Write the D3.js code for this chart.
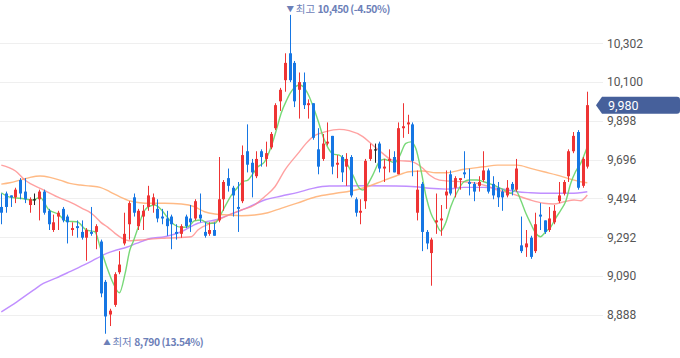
<!DOCTYPE html>
<html><head><meta charset="utf-8">
<script src="https://cdn.jsdelivr.net/npm/d3@7"></script>
<style>body{margin:0;background:#fff;}svg{display:block;}</style>
</head><body><svg id="c" width="680" height="358"></svg>
<script>
const opens = [9450,9520,9510,9500,9590,9530,9460,9490,9490,9530,
9430,9330,9400,9440,9400,9330,9350,9320,9290,9320,
9320,9270,9060,8890,8940,9110,9260,9360,9500,9350,
9400,9450,9460,9440,9400,9390,9400,9320,9310,9400,
9390,9390,9410,9320,9310,9330,9380,9490,9600,9550,
9450,9480,9740,9680,9610,9740,9700,9760,9860,10000,
10110,10250,10200,10060,10100,9980,9990,9750,9700,9780,
9820,9670,9710,9660,9710,9490,9420,9480,9700,9750,
9780,9650,9690,9710,9620,9860,9880,9880,9420,9570,
9320,9210,9370,9380,9510,9620,9550,9590,9630,9580,
9570,9560,9590,9640,9570,9550,9530,9510,9570,9540,
9250,9240,9290,9220,9410,9380,9330,9370,9480,9520,
9610,9740,9840,9560,9660];
const highs = [9520,9530,9510,9550,9600,9600,9500,9520,9540,9540,
9440,9410,9430,9450,9410,9370,9380,9380,9340,9450,
9360,9280,9070,8920,9110,9220,9420,9480,9520,9440,
9460,9560,9520,9490,9440,9430,9410,9360,9360,9410,
9460,9490,9520,9370,9370,9370,9710,9590,9650,9560,
9580,9770,9880,9700,9740,9750,9790,9840,9990,10070,
10250,10450,10210,10150,10150,10010,9990,9860,9830,9890,
9820,9720,9720,9730,9720,9500,9490,9700,9780,9780,
9790,9700,9750,9740,9890,9990,9930,9890,9640,9580,
9330,9290,9520,9460,9640,9640,9610,9600,9740,9650,
9580,9610,9740,9650,9610,9580,9540,9590,9580,9700,
9400,9330,9300,9420,9470,9380,9450,9460,9580,9590,
9750,9840,9850,9710,10050];
const lows = [9360,9420,9450,9470,9490,9470,9420,9460,9380,9410,
9330,9320,9330,9370,9260,9300,9290,9280,9170,9300,
9230,8980,8790,8830,8930,9100,9250,9280,9400,9330,
9330,9430,9420,9370,9360,9300,9230,9280,9290,9340,
9320,9380,9370,9290,9300,9300,9370,9430,9530,9400,
9320,9470,9630,9500,9600,9660,9660,9750,9850,9950,
10050,10100,9970,9910,9960,9910,9800,9620,9690,9770,
9620,9600,9580,9560,9500,9400,9360,9440,9690,9680,
9630,9580,9630,9630,9620,9810,9830,9610,9380,9220,
9230,9040,9310,9300,9440,9510,9500,9540,9600,9510,
9480,9530,9580,9520,9490,9450,9430,9500,9510,9530,
9210,9190,9180,9210,9330,9310,9320,9360,9470,9510,
9580,9730,9540,9550,9650];
const closes = [9420,9450,9500,9540,9520,9490,9490,9490,9530,9420,
9360,9370,9420,9380,9370,9340,9340,9290,9330,9310,
9350,9000,8880,8910,9100,9150,9310,9470,9420,9430,
9430,9510,9500,9390,9390,9350,9360,9310,9350,9350,
9370,9480,9390,9300,9330,9300,9490,9580,9560,9510,
9440,9720,9670,9630,9700,9710,9730,9830,9980,10060,
10200,10110,10000,10100,9980,9990,9810,9660,9780,9790,
9660,9680,9630,9700,9510,9420,9430,9690,9750,9750,
9650,9660,9700,9630,9860,9870,9890,9690,9540,9320,
9260,9280,9380,9390,9530,9520,9600,9600,9620,9570,
9530,9580,9640,9530,9510,9500,9500,9550,9540,9650,
9220,9260,9190,9360,9400,9320,9390,9430,9510,9580,
9740,9820,9550,9700,9980];

// moving average lines: [candle index, value]
const ma5 = [[0,9524],[1.8,9501],[4,9495],[6.7,9486],[8.2,9500],[10,9437],[12,9413],[13.8,9376],[16,9373],[18,9330],[19.8,9321],[20.9,9243],[22.3,9139],[23.7,9052],[25,9003],[26.2,9104],[27.2,9226],[27.9,9269],[29,9347],[30,9417],[31.1,9451],[32.5,9460],[33.9,9434],[35.3,9391],[36.7,9356],[38.1,9344],[39.5,9347],[40.9,9378],[42.3,9382],[43.7,9365],[45.2,9365],[46.2,9399],[47.3,9451],[48.7,9512],[50.1,9555],[51.1,9581],[52.2,9590],[53.3,9625],[54.3,9659],[55.7,9685],[57.1,9763],[58.2,9850],[59.2,9937],[60.4,10007],[61.1,10041],[62.1,10073],[63.2,10085],[63.9,10076],[65,10033],[66,9972],[67.1,9894],[68.1,9816],[69.2,9755],[70.2,9725],[71.5,9720],[72.9,9685],[74.4,9616],[75.8,9547],[76.5,9538],[77.2,9555],[78.6,9616],[80,9685],[81,9698],[82.1,9690],[83.2,9680],[84.2,9711],[85.6,9781],[86.7,9789],[87.7,9755],[88.8,9642],[89.9,9503],[90.9,9417],[92,9365],[93,9325],[94,9365],[95.1,9451],[96.5,9529],[97.9,9581],[99,9590],[100.7,9590],[102.1,9581],[103.6,9569],[105,9555],[106.4,9538],[107.8,9521],[108.8,9538],[109.9,9486],[111,9417],[112,9365],[113.1,9313],[114.1,9295],[115.2,9321],[116.3,9347],[117.3,9391],[118.4,9434],[119.4,9477],[120.5,9573],[121.5,9633],[122.6,9677],[124,9763]];
const ma20 = [[0,9668],[3,9637],[5,9590],[9,9538],[12,9501],[15,9470],[17,9444],[19,9418],[20,9397],[21,9371],[22.5,9345],[24,9314],[25.5,9288],[27,9274],[29.6,9278],[31.1,9282],[35,9288],[40.2,9295],[41.6,9330],[45.2,9373],[48,9408],[50.8,9434],[53.6,9460],[55.7,9503],[57.9,9555],[60,9642],[62.8,9729],[64.5,9781],[65.9,9815],[68.7,9842],[71.5,9854],[73.6,9847],[76.5,9816],[78.6,9772],[80.7,9729],[82.8,9694],[84.9,9690],[87,9685],[89.2,9651],[90.6,9616],[92.7,9590],[94.1,9586],[97.9,9581],[100.7,9573],[102.8,9559],[105,9538],[107.8,9521],[109.9,9503],[112,9486],[114.8,9469],[116.9,9465],[119.1,9477],[121.2,9486],[122.6,9482],[124,9512]];
const ma60 = [[0,9569],[1.8,9576],[4,9590],[6.1,9604],[8.2,9611],[10.3,9604],[12.4,9590],[14.5,9573],[16.7,9564],[18.8,9559],[20.9,9552],[23,9529],[25.1,9503],[27.2,9482],[29.3,9472],[31.5,9469],[34.6,9469],[38.1,9465],[40.9,9451],[43,9425],[45.2,9413],[48,9408],[50.8,9404],[53.6,9408],[56.4,9420],[59.2,9443],[62.6,9470],[66.6,9503],[70.8,9521],[75,9538],[77.9,9559],[80.7,9586],[83.5,9611],[86.3,9633],[89.2,9637],[92,9628],[94.1,9628],[97.9,9646],[102.1,9659],[105,9668],[109.2,9668],[112,9651],[114.8,9633],[117.6,9616],[120.5,9594],[122.6,9581],[124,9576]];
const ma120 = [[0,8904],[3.3,8956],[6.8,9017],[8.9,9052],[11.7,9081],[14.5,9113],[17.4,9147],[20.2,9182],[22.3,9208],[24.4,9226],[26.5,9240],[28.6,9260],[31.5,9286],[34.6,9295],[38.1,9321],[41.6,9365],[45.2,9382],[48.7,9413],[52.2,9448],[55.7,9486],[59.3,9507],[62.8,9526],[65.9,9547],[69.4,9559],[76.5,9560],[83.5,9559],[87.7,9555],[90.6,9547],[94.1,9543],[97.9,9552],[102.1,9552],[106.4,9542],[109.2,9529],[112,9524],[116.3,9521],[120.5,9521],[124,9529]];
const yTicks = [10302,10100,9898,9696,9494,9292,9090,8888];
const lastPrice = closes[closes.length-1];
const hiLabel = "최고", loLabel = "최저";

const svg = d3.select("#c");
const x = d3.scaleLinear().domain([0,124]).range([1.3,587.3]);
const y = d3.scaleLinear().domain([8888,10302]).range([314.9,43.3]);
const fmt = d3.format(",");

// grid
svg.append("g").selectAll("line").data(yTicks).join("line")
  .attr("x1",0).attr("x2",603)
  .attr("y1",d=>Math.round(y(d))+0.5).attr("y2",d=>Math.round(y(d))+0.5)
  .attr("stroke","#efefef").attr("stroke-width",1);

// axis labels
const axis = d3.axisRight(y).tickValues(yTicks).tickFormat(fmt).tickSize(0).tickPadding(0);
const ag = svg.append("g").attr("transform","translate(607,0)").call(axis);
ag.select(".domain").remove();
ag.selectAll("text").attr("font-family","Roboto, 'Liberation Sans', sans-serif").attr("font-size",12).attr("fill","#555");

// MA lines
const line = d3.line().x(d=>x(d[0])).y(d=>y(d[1])).curve(d3.curveMonotoneX);
const maDefs = [[ma120,"#b57bff",0.85],[ma60,"#ffae70",0.85],[ma20,"#ff8a8a",0.8],[ma5,"#68d468",0.9]];
maDefs.forEach(([d,c,o])=>{
  svg.append("path").datum(d).attr("d",line).attr("fill","none")
    .attr("stroke",c).attr("stroke-width",1.4).attr("stroke-opacity",o);
});

// candles
const idx = d3.range(opens.length);
const col = i => closes[i]>opens[i] ? "#ee3434" : (closes[i]<opens[i] ? "#1676e3" : "#222");
const cg = svg.append("g");
idx.forEach(i=>{
  const cx = Math.round(x(i));
  cg.append("rect").attr("x",cx).attr("width",1)
    .attr("y",y(highs[i])).attr("height",Math.max(1,y(lows[i])-y(highs[i])))
    .attr("fill",col(i));
  const top = y(Math.max(opens[i],closes[i])), bot = y(Math.min(opens[i],closes[i]));
  cg.append("rect").attr("x",cx-1).attr("width",3)
    .attr("y",top).attr("height",Math.max(1.2,bot-top)).attr("fill",col(i));
});

// hi / lo annotations
const hiI = d3.maxIndex(highs), loI = d3.minIndex(lows);
const hi = highs[hiI], lo = lows[loI];
const pct = v => d3.format(".2f")(v).replace("−","-");
const annCol = "#6c80b8";
function ann(xp, yp, arrow, lab, val, p){
  const t = svg.append("text").attr("x",xp).attr("y",yp).attr("fill",annCol)
    .attr("font-family","'Noto Sans CJK KR', sans-serif").attr("font-size",10.5).attr("dominant-baseline","middle");
  t.append("tspan").attr("font-size",7.5).text(arrow+" ");
  t.append("tspan").text(lab+" ");
  t.append("tspan").attr("font-weight","bold").attr("font-size",10.3).attr("letter-spacing","-0.45").text(fmt(val)+" ("+pct(p)+"%)");
}
ann(x(hiI)-3, 10, "▼", hiLabel, hi, (lastPrice-hi)/hi*100);
ann(x(loI)-2, 343, "▲", loLabel, lo, (lastPrice-lo)/lo*100);

// last price tag
const ly = y(lastPrice);
const tag = svg.append("g");
tag.append("path").attr("d",`M596,${ly} L602,${ly-8.5} L677,${ly-8.5} Q680,${ly-8.5} 680,${ly-5.5} L680,${ly+5.5} Q680,${ly+8.5} 677,${ly+8.5} L602,${ly+8.5} Z`)
  .attr("fill","#46609b");
tag.append("text").attr("x",608).attr("y",ly).attr("dominant-baseline","central")
  .attr("font-family","Roboto, 'Liberation Sans', sans-serif").attr("font-size",12.5).attr("fill","#fff").text(fmt(lastPrice));
</script></body></html>
